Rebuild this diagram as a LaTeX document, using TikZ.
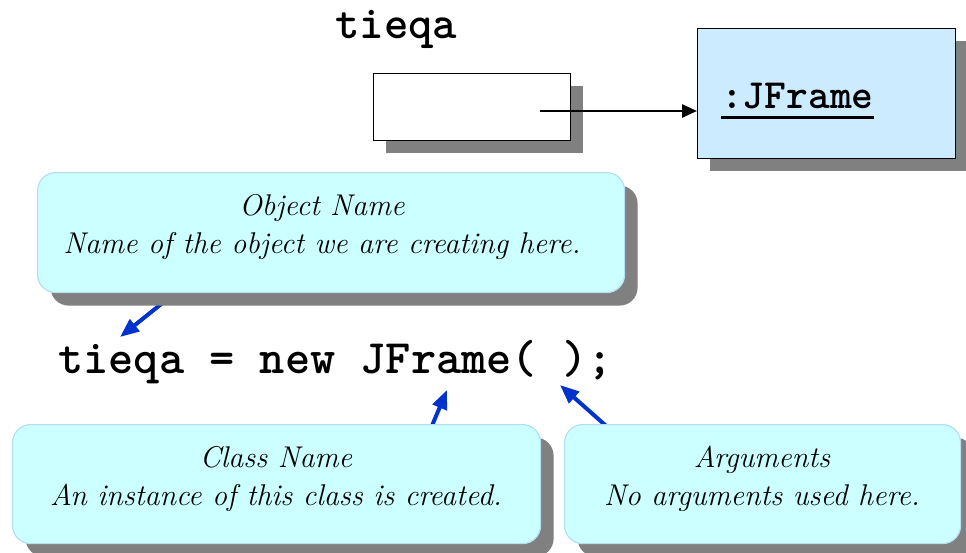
\documentclass[tikz,border=0pt]{standalone}
\usepackage{fontspec}
\usetikzlibrary{arrows.meta,shadows}

\definecolor{calloutfill}{HTML}{CCFFFF}
\definecolor{calloutedge}{HTML}{B4DEF2}
\definecolor{objfill}{HTML}{CCEBFF}
\definecolor{shadowgray}{HTML}{808080}
\definecolor{pointer}{HTML}{0033CC}

\tikzset{
  x=1pt, y=-1pt,
  graysh/.style={drop shadow={shadow xshift=12pt, shadow yshift=-12pt, fill=shadowgray, opacity=1}},
  refbox/.style={draw=black, line width=1.2pt, fill=white, anchor=north west, inner sep=0pt, graysh},
  objbox/.style={draw=black, line width=1.2pt, fill=objfill, anchor=north west, inner sep=0pt, graysh},
  callout/.style={draw=calloutedge, line width=1.2pt, fill=calloutfill, rounded corners=18pt,
    anchor=north west, inner sep=0pt, drop shadow={shadow xshift=13pt, shadow yshift=-13pt, fill=shadowgray, opacity=1}},
  notetext/.style={align=center, font=\fontsize{30}{38}\selectfont\itshape},
  pointerarrow/.style={draw=pointer, line width=4pt, -{Triangle[length=19pt,width=15pt]}},
  refarrow/.style={draw=black, line width=2.5pt, -{Triangle[length=15pt,width=13pt]}},
}

\begin{document}
\begin{tikzpicture}
\useasboundingbox (0,0) rectangle (966,552);

% variable and the object it refers to
\node[font=\fontsize{46.5}{50}\selectfont\ttfamily\bfseries, anchor=base west, inner sep=0pt] (varname) at (335,38) {tieqa};
\node[refbox, minimum width=197pt, minimum height=67pt] (ref) at (373,73) {};
\node[objbox, minimum width=258pt, minimum height=130pt] (jframe) at (697,28) {};
\node[font=\fontsize{41.5}{45}\selectfont\ttfamily\bfseries, anchor=base west, inner sep=0pt] (jflabel) at (721,108) {:JFrame};
\draw[line width=3pt] ([yshift=-9pt]jflabel.base west) -- ([yshift=-9pt]jflabel.base east);
\coordinate (refdot) at (540,111);
\draw[refarrow] (refdot) -- (refdot -| jframe.west);

% the statement
\node[font=\fontsize{48}{52}\selectfont\ttfamily\bfseries, anchor=base west, inner sep=0pt] (code) at (58,373) {tieqa = new JFrame( );};

% pointers from the notes to the statement
\coordinate (p1s) at (185,285);  \coordinate (p1e) at (120,337);
\coordinate (p2s) at (426,440);  \coordinate (p2e) at (447,390);
\coordinate (p3s) at (622,440);  \coordinate (p3e) at (560,385);
\draw[pointerarrow] (p1s) -- (p1e);
\draw[pointerarrow] (p2s) -- (p2e);
\draw[pointerarrow] (p3s) -- (p3e);

% notes
\node[callout, minimum width=587pt, minimum height=120pt] (objnote) at (37,172) {};
\node[notetext] (objnotetext) at (322,227) {Object Name\\Name of the object we are creating here.};

\node[callout, minimum width=528pt, minimum height=119pt] (classnote) at (12,424) {};
\node[notetext] (classnotetext) at (276,479) {Class Name\\An instance of this class is created.};

\node[callout, minimum width=396pt, minimum height=119pt] (argnote) at (564,424) {};
\node[notetext] (argnotetext) at (762,479) {Arguments\\No arguments used here.};
\end{tikzpicture}
\end{document}
